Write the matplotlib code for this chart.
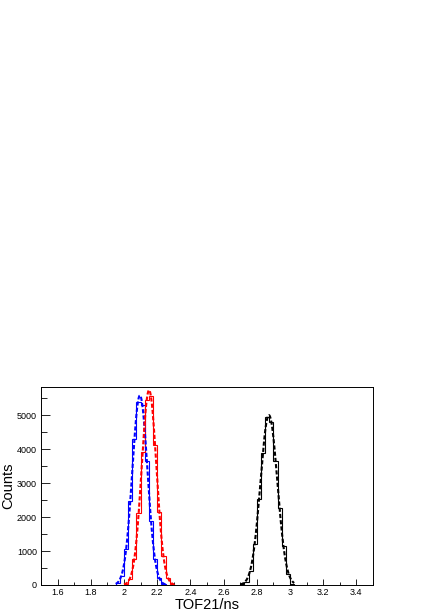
import numpy as np
import matplotlib
matplotlib.use("Agg")
import matplotlib.pyplot as plt
from matplotlib.ticker import MultipleLocator, FormatStrFormatter

plt.rcParams['font.family'] = ['Liberation Sans', 'DejaVu Sans']

# bin width of all three histograms (ns)
bin_w = 0.025

# blue histogram, first bin starts at 1.95 ns
blue_start = 1.95
blue_counts = [70, 265, 1050, 2470, 4300, 5410, 5310, 3650, 1880, 755, 215, 40]

# red histogram, first bin starts at 2.0 ns
red_start = 2.0
red_counts = [40, 170, 755, 2130, 3910, 5460, 5560, 4140, 2150, 850, 220, 40]

# black histogram, first bin starts at 2.7 ns
black_start = 2.7
black_counts = [15, 100, 410, 1200, 2530, 3890, 4950, 4800, 3650, 2270, 1150, 320, 30]

series = [
    (blue_start, blue_counts, "#0000ff"),
    (red_start, red_counts, "#ff0000"),
    (black_start, black_counts, "#000000"),
]


def gaus_fit(x, y):
    # weighted parabola fit of log(y), weights y^2 (close to a chi2 gaussian fit)
    w = y
    A = np.vstack([np.ones_like(x), x, x ** 2]).T * w[:, None]
    b = np.log(y) * w
    a0, a1, a2 = np.linalg.lstsq(A, b, rcond=None)[0]
    sig = np.sqrt(-1 / (2 * a2))
    mu = -a1 / (2 * a2)
    amp = np.exp(a0 - a1 ** 2 / (4 * a2))
    return amp, mu, sig


fig = plt.figure(figsize=(4.36, 6.16), dpi=100)
ax = fig.add_axes([41 / 436, 31 / 616, 332 / 436, 198 / 616])

for start, counts, col in series:
    counts = np.array(counts, dtype=float)
    edges = start + bin_w * np.arange(len(counts) + 1)
    ax.stairs(counts, edges, color=col, lw=0.8, zorder=2)

    # dashed gaussian fit over the histogram range
    centers = 0.5 * (edges[:-1] + edges[1:])
    amp, mu, sig = gaus_fit(centers, counts)
    xs = np.linspace(edges[0], edges[-1], 300)
    ax.plot(xs, amp * np.exp(-0.5 * ((xs - mu) / sig) ** 2), color=col,
            lw=1.5, dashes=(2, 1), zorder=3)

ymax = max(max(c) for _, c, _ in series) * 1.05
ax.set_xlim(1.5, 3.5)
ax.set_ylim(0, ymax)

ax.xaxis.set_major_locator(MultipleLocator(0.2))
ax.xaxis.set_minor_locator(MultipleLocator(0.1))
ax.xaxis.set_major_formatter(FormatStrFormatter('%g'))
ax.yaxis.set_major_locator(MultipleLocator(1000))
ax.yaxis.set_minor_locator(MultipleLocator(500))

ax.tick_params(axis='x', which='major', direction='in', length=4, width=0.6,
               labelsize=6.5, pad=2, top=False)
ax.tick_params(axis='x', which='minor', direction='in', length=2, width=0.6, top=False)
ax.tick_params(axis='y', which='major', direction='in', length=6.5, width=0.6,
               labelsize=6.5, pad=3, right=False)
ax.tick_params(axis='y', which='minor', direction='in', length=4, width=0.6, right=False)

for sp in ax.spines.values():
    sp.set_linewidth(0.7)
    sp.set_zorder(5)

ax.set_xlabel("TOF21/ns", fontsize=10.5, labelpad=1)
ax.set_ylabel("Counts", fontsize=10.5, labelpad=1)

fig.savefig("out.png", dpi=100, facecolor="white")
